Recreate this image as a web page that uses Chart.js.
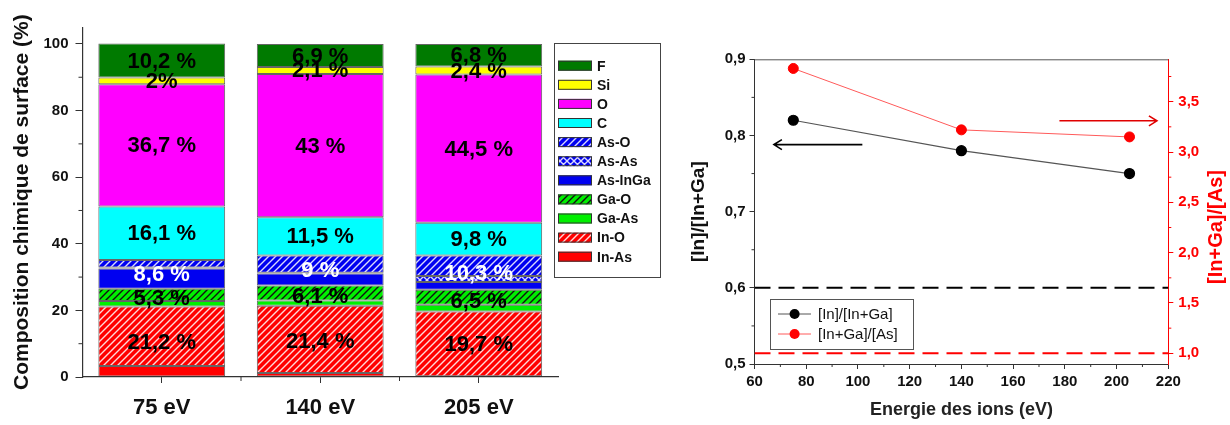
<!DOCTYPE html>
<html>
<head>
<meta charset="utf-8">
<script src="https://cdn.jsdelivr.net/npm/chart.js@4.4.1/dist/chart.umd.min.js"></script>
<style>
  body { margin: 0; background: #fff; }
  #wrap { position: relative; width: 1230px; height: 425px; }
  canvas { position: absolute; top: 0; }
</style>
</head>
<body>
<div id="wrap">
  <canvas id="bars" width="680" height="425" style="left:0"></canvas>
  <canvas id="ratios" width="550" height="425" style="left:680px"></canvas>
</div>
<script>
// ---- left chart data (surface composition, %) ----
const energies = ['75 eV', '140 eV', '205 eV'];
const inAs = [3.3, 1.2, 0.2];
const inO = [17.9, 20.2, 19.5];
const gaAs = [1.6, 1.6, 2.0];
const gaO = [3.7, 4.5, 4.5];
const asInGa = [6.1, 3.6, 2.3];
const asAs = [0.3, 0.2, 1.8];
const asO = [2.2, 5.2, 6.2];
const cVals = [16.1, 11.5, 9.8];
const oVals = [36.7, 43, 44.5];
const siVals = [2, 2.1, 2.4];
const fVals = [10.2, 6.9, 6.8];

const inLbl = ['21,2 %', '21,4 %', '19,7 %'];
const gaLbl = ['5,3 %', '6,1 %', '6,5 %'];
const asLbl = ['8,6 %', '9 %', '10,3 %'];
const cLbl = ['16,1 %', '11,5 %', '9,8 %'];
const oLbl = ['36,7 %', '43 %', '44,5 %'];
const siLbl = ['2%', '2,1 %', '2,4 %'];
const fLbl = ['10,2 %', '6,9 %', '6,8 %'];

// ---- right chart data ----
const ionEnergy = [75, 140, 205];
const inRatio = [0.82, 0.78, 0.75];
const inGaAsRatio = [3.83, 3.22, 3.15];
const inRef = 0.6;
const inGaAsRef = 1.0;

const FONT = "'Liberation Sans', Arial, sans-serif";
Chart.defaults.font.family = FONT;

function hatch(bg, fg, kind) {
	const n = 7;
	const c = document.createElement('canvas');
	c.width = n; c.height = n;
	const g = c.getContext('2d');
	g.fillStyle = bg;
	g.fillRect(0, 0, n, n);
	g.strokeStyle = fg;
	g.lineWidth = 1.4;
	g.beginPath();
	g.moveTo(0, n); g.lineTo(n, 0);
	g.moveTo(-2, 2); g.lineTo(2, -2);
	g.moveTo(n - 2, n + 2); g.lineTo(n + 2, n - 2);
	if (kind === 'cross') {
		g.moveTo(0, 0); g.lineTo(n, n);
		g.moveTo(-2, n - 2); g.lineTo(2, n + 2);
		g.moveTo(n - 2, -2); g.lineTo(n + 2, 2);
	}
	g.stroke();
	return g.createPattern(c, 'repeat');
}

const RED = '#ff0000', GREEN = '#00f000', BLUE = '#0000f0';
const segs = [
	{ label: 'In-As', data: inAs, bg: RED },
	{ label: 'In-O', data: inO, bg: hatch(RED, 'rgba(255,255,255,0.85)') },
	{ label: 'Ga-As', data: gaAs, bg: GREEN },
	{ label: 'Ga-O', data: gaO, bg: hatch(GREEN, '#111') },
	{ label: 'As-InGa', data: asInGa, bg: BLUE },
	{ label: 'As-As', data: asAs, bg: hatch(BLUE, 'rgba(255,255,255,0.85)', 'cross') },
	{ label: 'As-O', data: asO, bg: hatch(BLUE, 'rgba(255,255,255,0.85)') },
	{ label: 'C', data: cVals, bg: '#00ffff' },
	{ label: 'O', data: oVals, bg: '#ff00ff' },
	{ label: 'Si', data: siVals, bg: '#ffff00' },
	{ label: 'F', data: fVals, bg: '#007a00' },
];

// groups of datasets that carry one total label
const groups = [
	{ ds: [0, 1], text: inLbl, color: '#000' },
	{ ds: [2, 3], text: gaLbl, color: '#000' },
	{ ds: [4, 5, 6], text: asLbl, color: '#fff' },
	{ ds: [7], text: cLbl, color: '#000' },
	{ ds: [8], text: oLbl, color: '#000' },
	{ ds: [9], text: siLbl, color: '#000' },
	{ ds: [10], text: fLbl, color: '#000' },
];

const minorTicks = {
	id: 'minorTicks',
	afterDraw(chart, args, opts) {
		const ctx = chart.ctx;
		for (const [id, vals] of Object.entries(opts.scales || {})) {
			const s = chart.scales[id];
			ctx.save();
			ctx.strokeStyle = s.options.border.color;
			ctx.lineWidth = 1;
			ctx.beginPath();
			vals.forEach((v) => {
				const p = s.getPixelForValue(v);
				if (s.isHorizontal()) { ctx.moveTo(p, s.top); ctx.lineTo(p, s.top + opts.len); }
				else if (s.position === 'left') { ctx.moveTo(s.right, p); ctx.lineTo(s.right - opts.len, p); }
				else { ctx.moveTo(s.left, p); ctx.lineTo(s.left + opts.len, p); }
			});
			ctx.stroke();
			ctx.restore();
		}
	},
};

const groupLabels = {
	id: 'groupLabels',
	afterDatasetsDraw(chart) {
		const ctx = chart.ctx;
		const y = chart.scales.y;
		ctx.save();
		ctx.font = 'bold 22px ' + FONT;
		ctx.textAlign = 'center';
		ctx.textBaseline = 'middle';
		energies.forEach((e, i) => {
			let base = 0;
			const x = chart.getDatasetMeta(0).data[i].x;
			groups.forEach((g) => {
				const sum = g.ds.reduce((a, d) => a + chart.data.datasets[d].data[i], 0);
				const mid = y.getPixelForValue(base + sum / 2);
				ctx.fillStyle = g.color;
				ctx.fillText(g.text[i], x, mid + 1);
				base += sum;
			});
		});
		ctx.restore();
	},
};

const boxLegend = {
	id: 'boxLegend',
	afterDraw(chart) {
		const ctx = chart.ctx;
		ctx.save();
		ctx.strokeStyle = '#444';
		ctx.lineWidth = 1;
		ctx.strokeRect(554.5, 43.5, 106, 234);
		ctx.font = 'bold 14px ' + FONT;
		ctx.textBaseline = 'middle';
		const list = chart.data.datasets.slice().reverse();
		list.forEach((d, k) => {
			const cy = 65.7 + k * 19.1;
			ctx.fillStyle = d.backgroundColor;
			ctx.fillRect(558, cy - 5, 34, 10);
			ctx.strokeStyle = '#333';
			ctx.strokeRect(558.5, cy - 4.5, 33, 9);
			ctx.fillStyle = '#111';
			ctx.fillText(d.label, 597, cy + 1);
		});
		ctx.restore();
	},
};

new Chart(document.getElementById('bars'), {
	type: 'bar',
	data: {
		labels: energies,
		datasets: segs.map((s) => ({
			label: s.label,
			data: s.data,
			backgroundColor: s.bg,
			borderColor: 'rgba(50,50,50,0.75)',
			borderWidth: 1,
			borderSkipped: false,
			barPercentage: 0.8,
			categoryPercentage: 1.0,
		})),
	},
	options: {
		responsive: false,
		animation: false,
		layout: { padding: { top: 27.3, right: 122, bottom: 0, left: 0 } },
		plugins: {
			legend: { display: false },
			tooltip: { enabled: false },
			minorTicks: { len: 4, scales: { y: [10, 30, 50, 70, 90], x: [0.5, 1.5] } },
		},
		scales: {
			x: {
				stacked: true,
				offset: true,
				grid: { offset: false, drawOnChartArea: false, tickLength: 6, tickColor: '#333' },
				border: { color: '#333', width: 1.2 },
				ticks: { color: '#111', padding: 12, font: { size: 22, weight: 'bold' } },
				afterFit: (s) => { s.height = 48; },
			},
			y: {
				stacked: true,
				min: 0,
				max: 105,
				ticks: { stepSize: 20, includeBounds: false, color: '#111', padding: 7, font: { size: 15, weight: 'bold' } },
				grid: { drawOnChartArea: false, tickLength: 7, tickColor: '#333' },
				border: { color: '#333', width: 1.2 },
				title: {
					display: true,
					text: 'Composition chimique de surface (%)',
					color: '#111',
					font: { size: 21, weight: 'bold' },
					padding: { top: 9.4, bottom: 0 },
				},
				afterFit: (s) => { s.width = 82.5; },
			},
		},
	},
	plugins: [groupLabels, boxLegend, minorTicks],
});

// ---- right chart ----
const fmt1 = (v) => v.toFixed(1).replace('.', ',');

const arrows = [
	{ axis: 'y', from: [101.7, 0.788], to: [67.5, 0.788], color: '#000' },
	{ axis: 'y1', from: [177.9, 3.31], to: [215.6, 3.31], color: '#e00000' },
];

const ratioExtras = {
	id: 'ratioExtras',
	afterDraw(chart) {
		const ctx = chart.ctx;
		const a = chart.chartArea;
		const xs = chart.scales.x;
		ctx.save();
		// top frame line
		ctx.strokeStyle = '#555';
		ctx.lineWidth = 1;
		ctx.beginPath();
		ctx.moveTo(a.left, a.top + 0.5);
		ctx.lineTo(a.right, a.top + 0.5);
		ctx.stroke();
		// arrows
		arrows.forEach((ar) => {
			const ys = chart.scales[ar.axis];
			const x0 = xs.getPixelForValue(ar.from[0]);
			const x1 = xs.getPixelForValue(ar.to[0]);
			const yy = ys.getPixelForValue(ar.from[1]);
			const dir = Math.sign(x1 - x0);
			ctx.strokeStyle = ar.color;
			ctx.lineWidth = 1.6;
			ctx.beginPath();
			ctx.moveTo(x0, yy);
			ctx.lineTo(x1, yy);
			ctx.moveTo(x1 - dir * 8, yy - 5);
			ctx.lineTo(x1, yy);
			ctx.lineTo(x1 - dir * 8, yy + 5);
			ctx.stroke();
		});
		// right axis title, reading bottom to top like the left one
		ctx.save();
		ctx.translate(536, 227);
		ctx.rotate(-Math.PI / 2);
		ctx.font = 'bold 20px ' + FONT;
		ctx.fillStyle = '#ff0000';
		ctx.textAlign = 'center';
		ctx.textBaseline = 'middle';
		ctx.fillText('[In+Ga]/[As]', 0, 0);
		ctx.restore();
		// legend box
		ctx.strokeStyle = '#555';
		ctx.lineWidth = 1;
		ctx.strokeRect(90.5, 299.5, 143, 50);
		const items = chart.data.datasets.slice(0, 2);
		ctx.font = '15px ' + FONT;
		ctx.textBaseline = 'middle';
		items.forEach((d, k) => {
			const cy = 314 + k * 20;
			ctx.strokeStyle = d.borderColor;
			ctx.lineWidth = 1;
			ctx.beginPath();
			ctx.moveTo(98, cy);
			ctx.lineTo(131, cy);
			ctx.stroke();
			ctx.fillStyle = d.pointBackgroundColor;
			ctx.beginPath();
			ctx.arc(114.6, cy, 5, 0, Math.PI * 2);
			ctx.fill();
			ctx.fillStyle = '#111';
			ctx.fillText(d.label, 138, cy + 1);
		});
		ctx.restore();
	},
};

new Chart(document.getElementById('ratios'), {
	type: 'line',
	data: {
		datasets: [
			{
				label: '[In]/[In+Ga]',
				data: ionEnergy.map((x, i) => ({ x: x, y: inRatio[i] })),
				yAxisID: 'y',
				borderColor: '#555',
				borderWidth: 1.2,
				pointBackgroundColor: '#000',
				pointBorderColor: '#000',
				pointRadius: 5,
			},
			{
				label: '[In+Ga]/[As]',
				data: ionEnergy.map((x, i) => ({ x: x, y: inGaAsRatio[i] })),
				yAxisID: 'y1',
				borderColor: '#ff5a5a',
				borderWidth: 1,
				pointBackgroundColor: '#ff0000',
				pointBorderColor: '#ff0000',
				pointRadius: 5,
			},
			{
				label: 'ref In',
				data: [{ x: 60, y: inRef }, { x: 220, y: inRef }],
				yAxisID: 'y',
				borderColor: '#000',
				borderWidth: 2,
				borderDash: [16, 8],
				pointRadius: 0,
			},
			{
				label: 'ref As',
				data: [{ x: 60, y: inGaAsRef }, { x: 220, y: inGaAsRef }],
				yAxisID: 'y1',
				borderColor: '#ff0000',
				borderWidth: 2,
				borderDash: [16, 8],
				pointRadius: 0,
			},
		],
	},
	options: {
		responsive: false,
		animation: false,
		layout: { padding: { top: 59.3, right: 0, bottom: 0, left: 0 } },
		plugins: {
			legend: { display: false },
			tooltip: { enabled: false },
			minorTicks: {
				len: 3,
				scales: {
					x: [70, 90, 110, 130, 150, 170, 190, 210],
					y: [0.55, 0.65, 0.75, 0.85],
					y1: [1.25, 1.75, 2.25, 2.75, 3.25, 3.75],
				},
			},
		},
		scales: {
			x: {
				type: 'linear',
				min: 60,
				max: 220,
				ticks: { stepSize: 20, color: '#111', padding: 4, font: { size: 15, weight: 'bold' } },
				grid: { drawOnChartArea: false, tickLength: 5, tickColor: '#333' },
				border: { color: '#333' },
				title: {
					display: true,
					text: 'Energie des ions (eV)',
					color: '#222',
					font: { size: 18, weight: 'bold' },
					padding: { top: 0, bottom: 4.2 },
				},
				afterFit: (s) => { s.height = 61; },
			},
			y: {
				position: 'left',
				min: 0.5,
				max: 0.9,
				ticks: { stepSize: 0.1, callback: fmt1, color: '#111', padding: 4, font: { size: 15, weight: 'bold' } },
				grid: { drawOnChartArea: false, tickLength: 5, tickColor: '#333' },
				border: { color: '#333' },
				title: {
					display: true,
					text: '[In]/[In+Ga]',
					color: '#111',
					font: { size: 19, weight: 'bold' },
					padding: { top: 7.6, bottom: 0 },
				},
				afterFit: (s) => { s.width = 74.5; },
			},
			y1: {
				position: 'right',
				min: 0.894,
				max: 3.921,
				ticks: { stepSize: 0.5, includeBounds: false, callback: fmt1, color: '#ff0000', padding: 5, font: { size: 15, weight: 'bold' } },
				grid: { drawOnChartArea: false, tickLength: 5, tickColor: '#ff0000' },
				border: { color: '#ff0000' },
				title: { display: false },
				afterFit: (s) => { s.width = 61.7; },
			},
		},
	},
	plugins: [ratioExtras, minorTicks],
});
</script>
</body>
</html>
